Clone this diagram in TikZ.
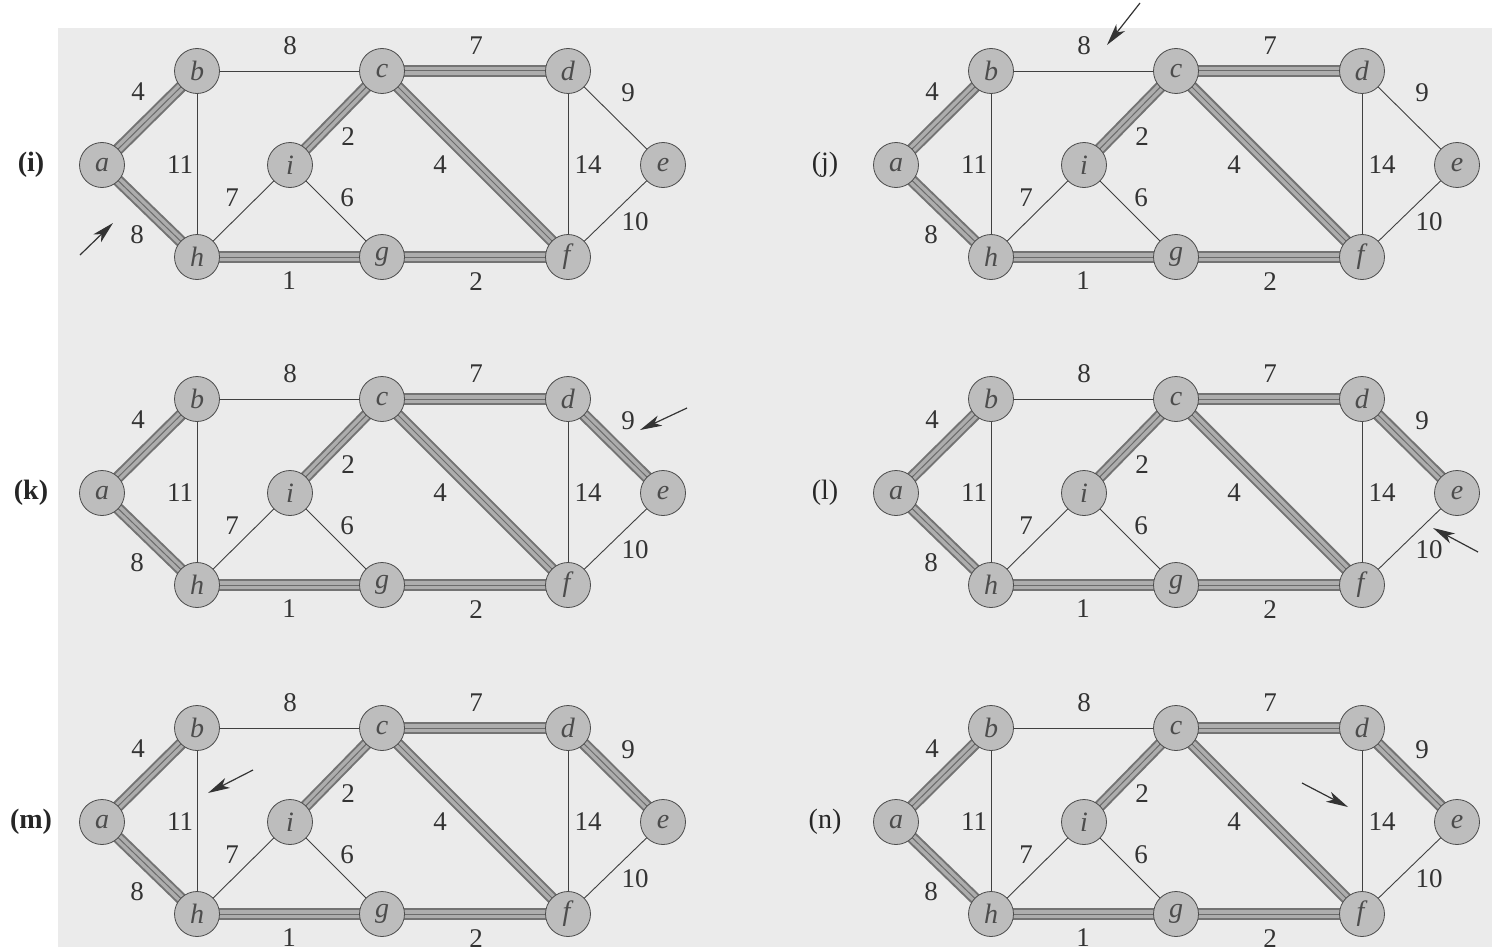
\documentclass[tikz,border=0pt]{standalone}
\usepackage{fontspec}
\setmainfont{Liberation Serif}
\usepackage{tikz}
\usetikzlibrary{arrows.meta}

\pgfdeclarelayer{back}
\pgfdeclarelayer{links}
\pgfsetlayers{back,links,main}

% one stage of the graph: #1 prefix, #2 #3 position of a, #4 = 1 when (d,e) is in the forest
\newcommand{\kgraph}[4]{%
  \begin{scope}[shift={(#2,#3)}]
    % vertices
    \node[vert] (#1a) at (0,0) {\textit{a}};
    \node[vert] (#1b) at (95,-94) {\textit{b}};
    \node[vert] (#1c) at (280,-94) {\textit{c}};
    \node[vert] (#1d) at (466,-94) {\textit{d}};
    \node[vert] (#1e) at (561,0) {\textit{e}};
    \node[vert] (#1h) at (95,92) {\textit{h}};
    \node[vert] (#1i) at (188,0) {\textit{i}};
    \node[vert] (#1g) at (280,92) {\textit{g}};
    \node[vert] (#1f) at (466,92) {\textit{f}};
    % weights
    \node[weight] (#1wab) at (36,-73) {4};
    \node[weight] (#1wah) at (35,70) {8};
    \node[weight] (#1wbh) at (78,0) {11};
    \node[weight] (#1whi) at (130,33) {7};
    \node[weight] (#1wig) at (245,33) {6};
    \node[weight] (#1wic) at (246,-28) {2};
    \node[weight] (#1wbc) at (188,-119) {8};
    \node[weight] (#1whg) at (187,116) {1};
    \node[weight] (#1wcd) at (374,-119) {7};
    \node[weight] (#1wcf) at (338,0) {4};
    \node[weight] (#1wgf) at (374,117) {2};
    \node[weight] (#1wdf) at (486,0) {14};
    \node[weight] (#1wde) at (526,-72) {9};
    \node[weight] (#1wef) at (533,57) {10};
  \end{scope}
  \begin{pgfonlayer}{links}
    % edges not in the forest
    \foreach \u/\v in {b/c, b/h, h/i, i/g, d/f, e/f}
      \draw[plain edge] (#1\u.center) -- (#1\v.center);
    % edges of the forest
    \foreach \u/\v in {a/b, a/h, c/i, c/d, c/f, h/g, g/f}
      \draw[tree edge] (#1\u.center) -- (#1\v.center);
    \ifnum#4=1
      \draw[tree edge] (#1d.center) -- (#1e.center);
    \else
      \draw[plain edge] (#1d.center) -- (#1e.center);
    \fi
  \end{pgfonlayer}
}

\begin{document}
\begin{tikzpicture}[x=0.5pt, y=-0.5pt,
    vert/.style={circle, draw=black!70, line width=0.4pt, fill=black!26,
      minimum size=22.5pt, inner sep=0pt, text=black!70,
      font=\fontsize{14}{16}\selectfont},
    weight/.style={inner sep=0pt, text=black!80, font=\fontsize{13.5}{15}\selectfont},
    tag/.style={inner sep=0pt, text=black!85, font=\fontsize{14}{16}\selectfont},
    plain edge/.style={draw=black!75, line width=0.45pt},
    tree edge/.style={draw=black!55, line width=6pt,
      postaction={draw=black!32, line width=4pt},
      postaction={draw=black!58, line width=0.5pt}},
    pointer/.style={draw=black!80, line width=0.6pt,
      -{Stealth[length=11pt, width=5.5pt, inset=3pt]}}]
  \useasboundingbox (0,0) rectangle (1492,947);
  % Draw stippled backdrop
  \begin{pgfonlayer}{back}
    \fill[white] (0,0) rectangle (1492,947);
    \fill[black!8] (58,28) rectangle (1492,947);
  \end{pgfonlayer}
  % Draw the six stages
  \foreach \p/\px/\py/\de/\lab in {i/102/165/0/\textbf{(i)}, j/896/165/0/(j),
      k/102/493/1/\textbf{(k)}, l/896/493/1/(l),
      m/102/822/1/\textbf{(m)}, n/896/822/1/(n)} {
    \kgraph{\p}{\px}{\py}{\de}
    \node[tag] (\p tag) at (\px-71,\py) {\lab};
  }
  % Arrows at the edge being looked at
  \foreach \p/\tx/\ty/\hx/\hy in {i/80/255/113/223, j/1140/3/1107/45,
      k/687/408/640/430, l/1478/552/1433/528,
      m/253/770/208/793, n/1302/783/1348/807} {
    \coordinate (\p tail) at (\tx,\ty);
    \coordinate (\p tip) at (\hx,\hy);
    \draw[pointer] (\p tail) -- (\p tip);
  }
\end{tikzpicture}
\end{document}
